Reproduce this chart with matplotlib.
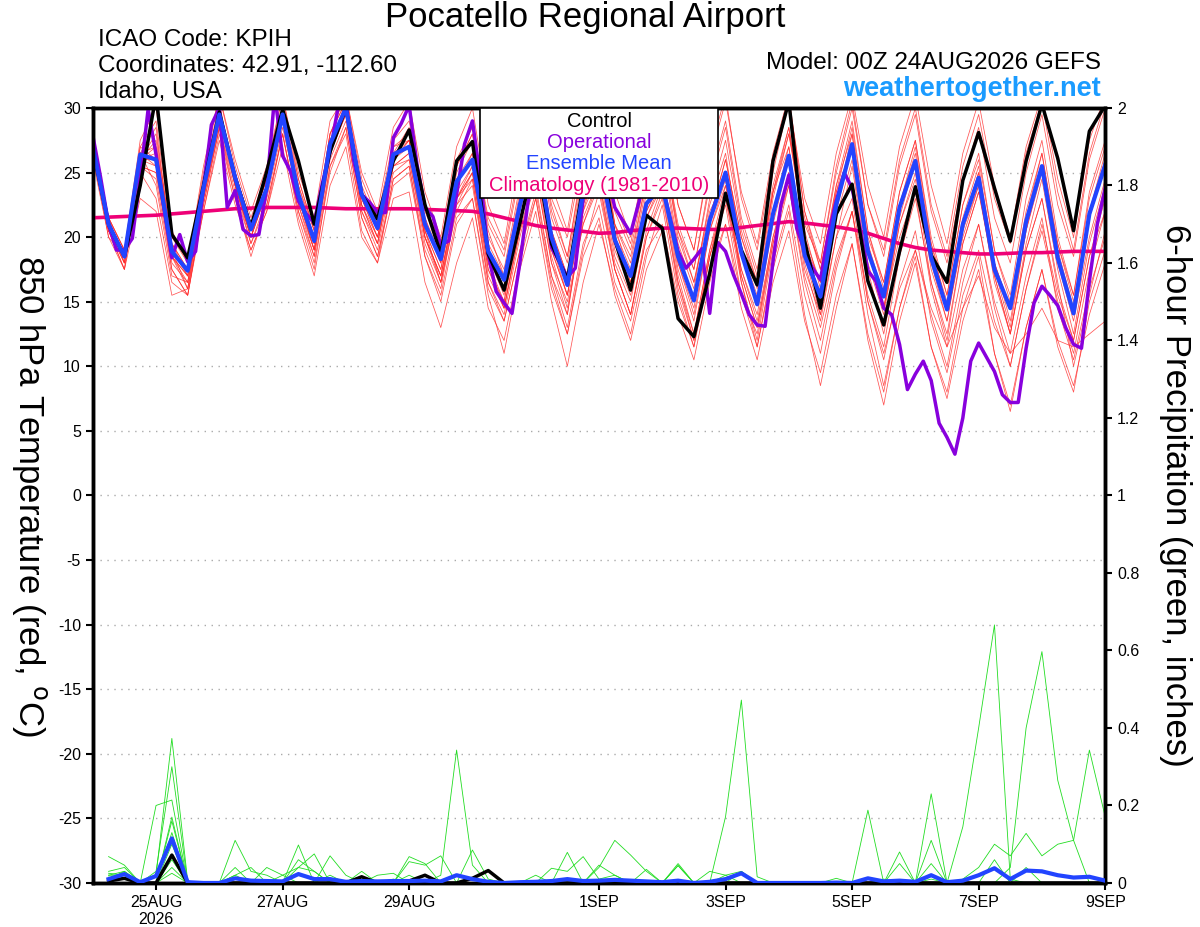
import numpy as np
import matplotlib
matplotlib.use("Agg")
import matplotlib.pyplot as plt
from matplotlib.patches import Rectangle
from matplotlib.ticker import FormatStrFormatter

plt.rcParams['font.family'] = ['Liberation Sans', 'DejaVu Sans']
plt.rcParams['axes.unicode_minus'] = False

# forecast hours (6-hourly for ensemble, 3-hourly for operational)
hours = np.arange(0, 385, 6)
hours_op = np.arange(0, 385, 3)
hours_pcp = np.arange(6, 385, 6)

control = [26.8, 21, 18.5, 24, 31, 20.2, 18.4, 24, 29.7, 24.6, 20.8, 25.1, 29.9,
           25.9, 21, 26.6, 30, 23.3, 21.4, 25.9, 28.3, 22.5, 18.7, 25.9, 27.4,
           18.7, 15.9, 21.1, 26.5, 19.5, 16.7, 24, 27.5, 19.8, 15.9, 21.7, 20.7,
           13.7, 12.3, 17.2, 23.4, 19, 16.3, 25.9, 30.5, 19.7, 14.5, 21.8, 24.1,
           16.6, 13.2, 18.9, 23.9, 18.6, 16.5, 24.4, 28.1, 23.8, 19.7, 25.9, 30.3,
           26.1, 20.5, 28.2, 30.2]

ens_mean = [27, 21, 18.5, 26.4, 26, 18.9, 17.4, 23.8, 29.5, 24.6, 20.6, 23.8, 29.5,
            23.3, 19.7, 27.2, 30, 23.3, 20.7, 26.4, 27, 21, 18.3, 24.3, 26,
            18.9, 16.7, 22.5, 27, 20, 16.3, 23.5, 26, 19.8, 17, 22.6, 24,
            18.5, 15.1, 21.3, 25, 18.8, 14.8, 21.8, 26.3, 18.6, 15.4, 22.5, 27.2,
            18.9, 15.4, 22.3, 25.9, 18.4, 14.4, 21, 24.6, 17.5, 14.5, 21.2, 25.5,
            18.4, 14.1, 21.8, 25.6]

operational = [27.9, 24.6, 21, 19, 19, 19.9, 24.6, 29.9, 26.4, 22.3, 18.4, 20.2,
               18.1, 18.9, 23.8, 28.7, 30, 22.3, 23.6, 20.6, 20.1, 20.2, 23.8, 31,
               26.3, 25.1, 22.8, 21.8, 21.1, 24.1, 26.6, 30, 30.5, 25.9, 23.3, 22.7,
               21.9, 21.9, 27.7, 28.8, 30.2, 25.6, 22.3, 21.6, 19.4, 19.7, 23.3, 27.2,
               29, 24.6, 18.7, 15.8, 14.9, 14.1, 18, 22.6, 26, 24, 19.2, 18.1,
               16.9, 17.6, 23, 27, 28, 25, 22.3, 21.3, 20.3, 22.6, 25, 26,
               24, 21.5, 18.9, 17.6, 18.3, 19.1, 14.1, 19.6, 18.9, 17.1, 15.6, 14,
               13.2, 13.1, 18.1, 22.5, 24.8, 20.7, 18.9, 17.6, 16.7, 20.2, 22.8, 25,
               23.8, 20.7, 17.4, 16.6, 14.5, 14, 11.7, 8.2, 9.4, 10.4, 8.9, 5.6,
               4.5, 3.2, 6, 10.4, 11.8, 10.7, 9.6, 7.8, 7.2, 7.2, 11.4, 14.9,
               16.2, 15.5, 14.7, 13, 11.7, 11.4, 16.6, 21, 23.8]

climatology = [21.5, 21.55, 21.6, 21.65, 21.7, 21.8, 21.9, 22.0, 22.1, 22.2, 22.25,
               22.3, 22.3, 22.3, 22.3, 22.25, 22.2, 22.2, 22.2, 22.2, 22.2, 22.15,
               22.1, 22.05, 22.0, 21.8, 21.5, 21.2, 20.9, 20.7, 20.55, 20.45, 20.3,
               20.35, 20.5, 20.6, 20.7, 20.7, 20.65, 20.6, 20.6, 20.75, 20.9, 21.05,
               21.2, 21.1, 20.95, 20.8, 20.6, 20.3, 19.9, 19.5, 19.2, 19.0, 18.9,
               18.8, 18.7, 18.7, 18.75, 18.8, 18.8, 18.85, 18.9, 18.9, 18.9]

# ensemble members, 850 hPa temperature
m01 = [27.5, 21.5, 19, 27, 29, 20, 18, 25, 31, 25.5, 21.5, 25, 31, 24.5, 20.5, 28, 31,
       24.5, 21.5, 27.5, 29, 22.5, 19.5, 26, 28.5, 21, 18.5, 25, 30, 22, 18.5, 26, 29.5,
       22, 19, 25, 28, 20.5, 17.5, 24.5, 29, 21.5, 17.5, 25, 30.5, 22, 18, 25.5, 30.5,
       22.5, 18.5, 25.5, 29.5, 22, 18, 24.5, 28.5, 21.5, 18, 25, 29.5, 22.5, 18.5, 26, 30]
m02 = [26.5, 20.5, 18, 25.5, 25, 18, 16.5, 23, 28.5, 23.5, 19.5, 22.5, 28, 22, 18.5, 25.5,
       28.5, 21.5, 18.5, 24, 25, 18.5, 15.5, 21.5, 23, 16, 13.5, 19, 23.5, 17, 13, 19.5,
       22.5, 16.5, 13.5, 19, 21, 15, 11.5, 17.5, 21, 14.5, 10.5, 16.5, 20.5, 13.5, 9.5,
       15.5, 19.5, 12.5, 8, 14.5, 18.5, 11.5, 7.5, 13.5, 17.5, 11, 7, 13, 17.5, 12, 8.5, 14, 18]
m03 = [27, 20.5, 18.5, 26, 27.5, 19.5, 17, 24.5, 30.5, 24, 20, 24, 30, 23, 19, 27, 30.5,
       23, 20, 26, 27.5, 20.5, 17.5, 24, 26.5, 19, 16.5, 23, 28, 20.5, 17, 24.5, 27.5, 20,
       16.5, 23.5, 26.5, 19.5, 16, 23, 27.5, 20.5, 16.5, 24, 28.5, 20, 16.5, 24, 29, 20.5,
       16.5, 23.5, 27.5, 19.5, 15.5, 22.5, 26.5, 19, 15.5, 23, 27.5, 20, 15.5, 23.5, 27.5]
m04 = [26.5, 21, 18.5, 27, 26, 18.5, 16, 23, 29, 25, 21, 24.5, 30, 23, 19.5, 27.5, 30,
       23.5, 21, 27, 28, 21.5, 18, 25, 27.5, 20, 17.5, 24, 28.5, 21.5, 18, 25, 28, 21, 18,
       24.5, 27.5, 21, 17.5, 24, 28.5, 21, 17, 23.5, 27, 18.5, 14, 20, 23, 15, 10.5, 16.5,
       20.5, 13.5, 9.5, 15.5, 19, 13.5, 10, 16, 21, 15.5, 12, 18.5, 23]
m05 = [27, 20.5, 17.5, 25.5, 24.5, 17.5, 15.5, 22, 28, 23, 19, 22, 28, 22, 18, 25, 28.5,
       21.5, 18.5, 24.5, 25.5, 19, 16, 22.5, 24, 16.5, 14, 20, 25, 18, 14, 21.5, 24.5, 18,
       15, 21.5, 24, 18, 14.5, 21.5, 26, 20, 16, 23.5, 28.5, 21, 18, 25, 30, 22.5, 19, 26,
       30, 22.5, 18.5, 25.5, 29.5, 23, 19.5, 26.5, 30.5, 23.5, 19, 26.5, 30.5]
m06 = [27.5, 21.5, 18, 26, 28, 19.5, 17.5, 24.5, 30, 24.5, 20.5, 24, 29.5, 24, 20, 27.5,
       29.5, 22.5, 19.5, 25.5, 26.5, 20, 17, 23, 25, 17.5, 15, 21.5, 26, 19, 15.5, 22, 25,
       18.5, 15.5, 21.5, 24.5, 17.5, 13.5, 20.5, 24.5, 17, 13, 20, 25, 17.5, 14, 21.5, 26,
       18, 14, 21, 25, 17.5, 13.5, 20.5, 24, 16.5, 12.5, 19, 23, 16, 12, 18.5, 22]
m07 = [26.5, 20.5, 19, 26.5, 27, 19, 17, 24, 29.5, 24, 20, 23.5, 29, 22.5, 19, 26.5, 30.5,
       24, 21, 26.5, 28.5, 22, 19, 25.5, 28, 20.5, 17, 23.5, 29, 22.5, 18.5, 25.5, 29.5,
       22.5, 19.5, 26, 29.5, 22.5, 19, 26, 30.5, 23.5, 19.5, 26.5, 31, 22, 17.5, 23.5, 27,
       19, 14.5, 20, 23.5, 16, 11.5, 17.5, 21, 15, 11, 17, 21.5, 14.5, 10.5, 16, 20]
m08 = [27, 21, 18.5, 26.5, 25.5, 18.5, 17, 23.5, 29, 24.5, 21, 23.5, 29, 23.5, 20, 27,
       29.5, 22, 19, 25, 26, 19.5, 16.5, 22, 24.5, 17, 14.5, 20.5, 25, 18, 15, 21, 24, 17.5,
       14, 20, 23, 16.5, 12.5, 19, 23, 17.5, 14, 21, 26, 19.5, 16.5, 23.5, 28.5, 20.5, 16,
       22.5, 26.5, 19, 14.5, 21, 25, 18, 14.5, 21, 25.5, 18.5, 14, 21.5, 25.5]
m09 = [27, 21, 18, 26, 26.5, 19, 17.5, 24, 29.5, 24.5, 20.5, 24, 30, 24, 20.5, 28, 30.5,
       23.5, 20.5, 26.5, 27, 20, 17, 23, 24.5, 16.5, 13.5, 19, 23, 16, 12.5, 18.5, 21.5,
       15.5, 12, 17.5, 20.5, 14, 10.5, 16.5, 21, 15.5, 12.5, 19.5, 24.5, 18.5, 15, 22, 27,
       20, 16.5, 23.5, 27.5, 20, 15.5, 22.5, 26, 19, 15, 22, 26.5, 19.5, 15, 22, 26]
m10 = [26.5, 21, 18.5, 26, 26, 18.5, 16.5, 23.5, 29.5, 24, 20, 23.5, 29.5, 23, 19.5, 27,
       30, 23, 20.5, 26.5, 27.5, 21, 18, 24.5, 26.5, 19.5, 17, 23, 27.5, 20.5, 17, 24, 27,
       21, 18.5, 24.5, 27.5, 20, 16.5, 22.5, 26.5, 19, 15, 22, 27, 19, 15.5, 22.5, 28,
       19.5, 15.5, 22.5, 27, 19, 15, 21.5, 25.5, 18, 14.5, 21.5, 26.5, 19, 14.5, 22, 26.5]
m11 = [27, 20.5, 18, 25.5, 25, 18.5, 17, 23, 29, 24, 20, 23.5, 29, 23, 19, 26.5, 29.5,
       22.5, 20, 25.5, 26.5, 20.5, 17.5, 23.5, 25.5, 18, 15, 22, 26.5, 19, 15.5, 22.5, 25.5,
       19, 16, 22, 24.5, 18, 14, 20.5, 24, 17.5, 13.5, 20, 24, 17, 13, 18.5, 22, 15, 11,
       16, 19, 14.5, 11.5, 14.5, 17, 13, 11, 12.5, 14.5, 12, 11.5, 12.5, 13.5]
m12 = [27.5, 21.5, 19, 27.5, 30, 20.5, 18, 25.5, 31, 26, 22, 25.5, 31, 25, 21.5, 29, 31,
       25, 22, 28.5, 30.5, 23.5, 20, 27, 30, 22.5, 19.5, 26.5, 31, 24, 20.5, 27.5, 31, 23.5,
       20, 26.5, 30, 22.5, 19, 26.5, 31, 23, 19, 26, 30.5, 23, 19.5, 26.5, 31, 24, 20, 27,
       31, 24, 19.5, 26.5, 30.5, 24, 20, 27, 31, 24.5, 20, 27.5, 31]
m13 = [26.5, 20, 17.5, 25, 23, 16.5, 15.5, 22.5, 28.5, 23, 18.5, 22.5, 28, 21.5, 17.5,
       25.5, 28, 20.5, 18, 24.5, 25.5, 18.5, 15, 21, 23, 15.5, 11, 17.5, 22, 15, 10, 16.5,
       21, 16, 12.5, 18.5, 22.5, 15.5, 11.5, 18.5, 23, 16.5, 12, 19, 24, 16.5, 12, 18, 22,
       14, 8.5, 14.5, 19, 14, 10, 16.5, 21, 14.5, 10, 16, 20.5, 15, 11, 17.5, 22]
m14 = [27, 21, 18.5, 26, 27, 19.5, 17.5, 24, 30, 25, 21, 24.5, 29.5, 23.5, 19.5, 27, 30,
       23, 20, 26, 27.5, 20, 16.5, 23, 25, 17.5, 14.5, 21, 25.5, 18.5, 14.5, 21, 24.5, 17.5,
       14, 20.5, 24, 16.5, 12, 18.5, 22.5, 15.5, 11.5, 17.5, 22, 14, 8.5, 14.5, 19.5, 12,
       7, 13.5, 18, 11.5, 8, 14.5, 18.5, 11, 6.5, 13, 17.5, 11.5, 8, 15, 19]
m15 = [27, 20.5, 17.5, 23, 22, 15.5, 16, 22, 27.5, 22.5, 19, 22, 27, 21, 17, 24, 27, 20,
       18, 23, 23.5, 16.5, 13, 18, 21.5, 14.5, 12, 18, 23, 16.5, 12.5, 19, 23.5, 17.5, 14,
       20, 23.5, 16, 12, 18.5, 23.5, 17, 13, 19.5, 25, 18, 13.5, 20, 25.5, 17.5, 12.5, 19,
       24, 18, 13.5, 20, 24, 17, 12.5, 19.5, 24.5, 17.5, 12.5, 19.5, 24]
m16 = [28, 21.5, 19, 26.5, 24, 17, 16.5, 23, 29, 25, 21, 24.5, 30, 24.5, 20.5, 28, 30.5,
       23.5, 21, 27, 27.5, 21.5, 18.5, 25.5, 28, 21.5, 19, 25.5, 29.5, 23, 20, 26.5, 29.5,
       21, 16.5, 22, 24.5, 17, 12.5, 19, 24, 19, 15.5, 23, 28, 21.5, 17.5, 24, 28, 19.5,
       14.5, 21, 24.5, 16.5, 12.5, 19.5, 23.5, 17.5, 13, 20.5, 25.5, 19.5, 15.5, 23, 27]
m17 = [26, 20, 18.5, 26.5, 28.5, 19, 16, 23.5, 30, 24.5, 20, 24, 29.5, 22.5, 18.5, 26.5,
       29.5, 22.5, 19.5, 26, 27, 20.5, 16.5, 22.5, 25, 18, 14.5, 20.5, 24, 17, 14, 22, 26.5,
       20.5, 17.5, 24, 27, 20.5, 16.5, 22, 24.5, 16.5, 11.5, 18, 22.5, 15.5, 11, 17.5, 22,
       15.5, 11.5, 18.5, 23, 16.5, 12, 19.5, 23.5, 17, 12.5, 19, 23, 16.5, 10, 15.5, 20.5]
m18 = [27, 21, 18.5, 26, 25.5, 17.5, 15.5, 22.5, 28.5, 24, 19.5, 23, 28.5, 23, 19, 26, 29,
       22, 19.5, 25.5, 26, 20, 17, 23, 25.5, 18.5, 15.5, 22, 27, 19.5, 15.5, 22.5, 26.5,
       19.5, 16, 22.5, 26, 19, 15, 21.5, 26, 20, 16.5, 23.5, 28, 20.5, 16, 22.5, 27, 19,
       14.5, 21.5, 26, 19.5, 14.5, 21, 25, 18, 13.5, 20.5, 25, 18, 13.5, 20, 24.5]
members = [m01, m02, m03, m04, m05, m06, m07, m08, m09, m10, m11, m12, m13, m14,
           m15, m16, m17, m18]

# 6-hour precipitation (inches), ensemble members, from hour 6
p01 = [0.02, 0.03, 0, 0.02, 0.373, 0.005, 0, 0,
       0.02, 0.04, 0, 0, 0.06, 0.03, 0, 0,
       0, 0, 0.01, 0, 0, 0.02, 0.343, 0.046,
       0, 0, 0, 0, 0.038, 0.03, 0.068, 0.01,
       0.02, 0, 0, 0, 0.045, 0, 0, 0.02,
       0.03, 0, 0, 0, 0, 0, 0, 0,
       0, 0, 0, 0, 0.01, 0, 0.145, 0.40,
       0.666, 0.01, 0, 0, 0, 0, 0, 0]
p02 = [0.068, 0.046, 0, 0.03, 0.30, 0, 0, 0,
       0.11, 0.03, 0.02, 0, 0.098, 0, 0.02, 0,
       0, 0, 0, 0.068, 0.05, 0, 0, 0.085,
       0.01, 0, 0, 0, 0, 0.079, 0, 0.04,
       0.11, 0.072, 0.03, 0, 0, 0, 0, 0.171,
       0.472, 0.016, 0, 0, 0, 0, 0, 0,
       0, 0, 0, 0, 0, 0, 0, 0,
       0, 0.04, 0.40, 0.597, 0.265, 0.11, 0, 0]
p03 = [0.03, 0.04, 0, 0.2, 0.214, 0, 0, 0,
       0.04, 0, 0.04, 0.02, 0.04, 0.075, 0, 0,
       0.03, 0, 0, 0.055, 0.046, 0.07, 0, 0,
       0, 0, 0, 0.02, 0, 0, 0, 0.046,
       0.02, 0, 0.035, 0, 0.05, 0, 0.03, 0.02,
       0, 0, 0, 0, 0, 0, 0, 0,
       0.188, 0, 0.08, 0, 0.23, 0, 0.01, 0.04,
       0.10, 0.07, 0.128, 0.07, 0.10, 0.11, 0.343, 0.171]
p04 = [0.01, 0.02, 0, 0, 0.17, 0, 0, 0,
       0, 0, 0, 0, 0, 0, 0.07, 0.02,
       0, 0.02, 0.025, 0, 0, 0, 0, 0,
       0, 0, 0, 0, 0, 0, 0, 0,
       0, 0, 0, 0, 0.045, 0, 0, 0,
       0.03, 0, 0, 0, 0, 0, 0.012, 0,
       0, 0, 0.05, 0, 0.11, 0, 0, 0,
       0.06, 0, 0.04, 0, 0, 0, 0, 0]
p05 = [0.025, 0.02, 0, 0, 0.13, 0, 0, 0,
       0, 0, 0, 0, 0.04, 0.03, 0, 0,
       0, 0, 0, 0.02, 0, 0, 0, 0,
       0, 0, 0, 0, 0, 0, 0, 0,
       0, 0, 0, 0, 0, 0, 0, 0,
       0, 0, 0, 0, 0, 0, 0, 0,
       0, 0.01, 0, 0, 0.05, 0, 0, 0,
       0, 0, 0, 0, 0, 0, 0, 0]
p06 = [0.01, 0.03, 0, 0, 0.10, 0, 0, 0,
       0.02, 0, 0, 0, 0, 0, 0, 0,
       0, 0, 0, 0, 0, 0, 0, 0,
       0, 0, 0, 0, 0, 0, 0, 0,
       0, 0, 0, 0, 0, 0, 0, 0,
       0, 0, 0, 0, 0, 0, 0, 0,
       0, 0, 0, 0, 0, 0, 0, 0,
       0, 0, 0, 0, 0, 0, 0, 0]
p07 = [0, 0, 0, 0, 0.06, 0, 0, 0,
       0, 0, 0, 0.02, 0, 0, 0, 0,
       0, 0, 0, 0, 0, 0, 0, 0,
       0, 0, 0, 0, 0, 0, 0, 0,
       0, 0, 0, 0, 0, 0, 0, 0,
       0, 0, 0, 0, 0, 0, 0, 0,
       0, 0, 0, 0, 0, 0, 0, 0,
       0, 0, 0, 0, 0, 0, 0, 0]
p08 = [0.02, 0.02, 0, 0, 0.16, 0, 0, 0,
       0, 0, 0, 0, 0, 0, 0, 0,
       0, 0, 0, 0, 0, 0, 0, 0,
       0, 0, 0, 0, 0, 0, 0, 0,
       0, 0, 0, 0, 0, 0, 0, 0,
       0, 0, 0, 0, 0, 0, 0, 0,
       0, 0, 0, 0, 0, 0, 0, 0,
       0, 0, 0, 0, 0, 0, 0, 0]
p09 = [0.01, 0.01, 0, 0, 0.04, 0, 0, 0,
       0, 0, 0, 0, 0, 0, 0, 0,
       0, 0, 0, 0, 0, 0, 0, 0,
       0, 0, 0, 0, 0, 0, 0, 0,
       0, 0, 0, 0, 0, 0, 0, 0,
       0, 0, 0, 0, 0, 0, 0, 0,
       0, 0, 0, 0, 0, 0, 0, 0,
       0, 0, 0, 0, 0, 0, 0, 0]
p10 = [0.015, 0.01, 0, 0, 0.025, 0, 0, 0,
       0, 0, 0, 0, 0, 0, 0, 0,
       0, 0, 0, 0, 0, 0, 0, 0,
       0, 0, 0, 0, 0, 0, 0, 0,
       0, 0, 0, 0, 0, 0, 0, 0,
       0, 0, 0, 0, 0, 0, 0, 0,
       0, 0, 0, 0, 0, 0, 0, 0,
       0, 0, 0, 0, 0, 0, 0, 0]
pcp_members = [p01, p02, p03, p04, p05, p06, p07, p08, p09, p10]

pcp_control = [0.005, 0.012, 0, 0, 0.072, 0, 0, 0,
               0, 0, 0, 0, 0, 0, 0, 0,
               0.016, 0, 0.005, 0.005, 0.02, 0, 0, 0.012,
               0.032, 0, 0, 0, 0, 0, 0, 0,
               0, 0, 0, 0, 0, 0, 0, 0,
               0, 0, 0, 0, 0, 0, 0, 0,
               0, 0, 0, 0, 0, 0, 0, 0,
               0, 0, 0, 0, 0, 0, 0, 0]
pcp_mean = [0.01, 0.023, 0.002, 0.018, 0.115, 0.002, 0, 0,
            0.012, 0.006, 0.005, 0.004, 0.023, 0.01, 0.01, 0.003,
            0.005, 0.004, 0.005, 0.005, 0.006, 0.004, 0.02, 0.01,
            0.003, 0, 0.002, 0.003, 0.005, 0.01, 0.005, 0.006,
            0.008, 0.006, 0.004, 0.002, 0.006, 0, 0.003, 0.01,
            0.025, 0, 0, 0, 0, 0, 0.001, 0,
            0.012, 0.004, 0.006, 0.003, 0.02, 0.002, 0.006, 0.02,
            0.038, 0.01, 0.032, 0.03, 0.02, 0.014, 0.016, 0.006]

tick_hours = [24, 72, 120, 192, 240, 288, 336, 384]
tick_labels = ['25AUG\n2026', '27AUG', '29AUG', '1SEP', '3SEP', '5SEP', '7SEP', '9SEP']

for m in members:
    assert len(m) == len(hours), len(m)
for p in pcp_members:
    assert len(p) == len(hours_pcp), len(p)
assert len(operational) == len(hours_op), len(operational)
assert len(control) == len(hours) and len(ens_mean) == len(hours) and len(climatology) == len(hours)
assert len(pcp_control) == len(hours_pcp) and len(pcp_mean) == len(hours_pcp)

fig = plt.figure(figsize=(12, 9.27), dpi=100)
ax = fig.add_axes([0.0773, 0.0475, 0.8437, 0.836])
ax2 = ax.twinx()

RED = '#ff2a2a'
GREEN = '#22dd22'
PURPLE = '#8800dd'
BLUE = '#2244ff'
PINK = '#ee0077'

for m in members:
    ax.plot(hours, m, color=RED, lw=0.55, alpha=0.8, zorder=2)
ax.plot(hours, climatology, color=PINK, lw=2.6, zorder=5)
ax.plot(hours_op, operational, color=PURPLE, lw=2.5, zorder=6)
ax.plot(hours, control, color='black', lw=2.5, zorder=7)
ax.plot(hours, ens_mean, color=BLUE, lw=3, zorder=8)

for p in pcp_members:
    ax2.plot(hours_pcp, p, color=GREEN, lw=0.6, zorder=2)
ax2.plot(hours_pcp, pcp_control, color='black', lw=2.5, zorder=4)
ax2.plot(hours_pcp, pcp_mean, color=BLUE, lw=3, zorder=5)

ax.set_xlim(0, 384)
ax.set_ylim(-30, 30)
ax2.set_ylim(0, 2)
ax.set_yticks(np.arange(-30, 31, 5))
ax2.set_yticks(np.arange(0, 2.01, 0.2))
ax2.yaxis.set_major_formatter(FormatStrFormatter('%g'))
ax.set_xticks(tick_hours)
ax.set_xticklabels(tick_labels)

for y in range(-25, 30, 5):
    ax.axhline(y, color='#aaaaaa', lw=1, ls=(0, (1, 4)), zorder=1)

ax.tick_params(axis='both', labelsize=11.5, direction='out', length=5, width=1.5)
ax2.tick_params(axis='y', labelsize=11.5, direction='out', length=5, width=1.5)
for a in (ax, ax2):
    for s in a.spines.values():
        s.set_linewidth(2.5)

ax.set_ylabel('850 hPa Temperature (red, $^{\\mathrm{o}}$C)', fontsize=25, rotation=-90,
              ha='center', va='center')
ax.yaxis.set_label_coords(-0.062, 0.5)
ax2.set_ylabel('6-hour Precipitation (green, inches)', fontsize=25, rotation=-90,
               ha='center', va='center')
ax2.yaxis.set_label_coords(1.069, 0.5)

# legend box
lx0, lx1 = 0.3826, 0.6177
ax2.add_patch(Rectangle((lx0, 0.884), lx1 - lx0, 0.116, transform=ax2.transAxes,
                        facecolor='white', edgecolor='black', lw=1.2, zorder=20))
leg_items = [('Control', 'black'), ('Operational', PURPLE),
             ('Ensemble Mean', BLUE), ('Climatology (1981-2010)', PINK)]
for i, (txt, col) in enumerate(leg_items):
    ax2.text((lx0 + lx1) / 2, 0.983 - i * 0.0275, txt, color=col, fontsize=14.5,
             ha='center', va='center', transform=ax2.transAxes, zorder=21)

fig.text(585 / 1200, 1 - 18 / 927, 'Pocatello Regional Airport', fontsize=25,
         ha='center', va='center')
fig.text(98 / 1200, 1 - 40 / 927, 'ICAO Code: KPIH', fontsize=17.5, ha='left', va='center')
fig.text(98 / 1200, 1 - 66 / 927, 'Coordinates: 42.91, -112.60', fontsize=17.5,
         ha='left', va='center')
fig.text(98 / 1200, 1 - 92 / 927, 'Idaho, USA', fontsize=17.5, ha='left', va='center')
fig.text(1101 / 1200, 1 - 63 / 927, 'Model: 00Z 24AUG2026 GEFS', fontsize=17.5,
         ha='right', va='center')
fig.text(1101 / 1200, 1 - 89 / 927, 'weathertogether.net', fontsize=19.5,
         fontweight='bold', color='#1a9bff', ha='right', va='center')

fig.savefig('out.png', dpi=100)
